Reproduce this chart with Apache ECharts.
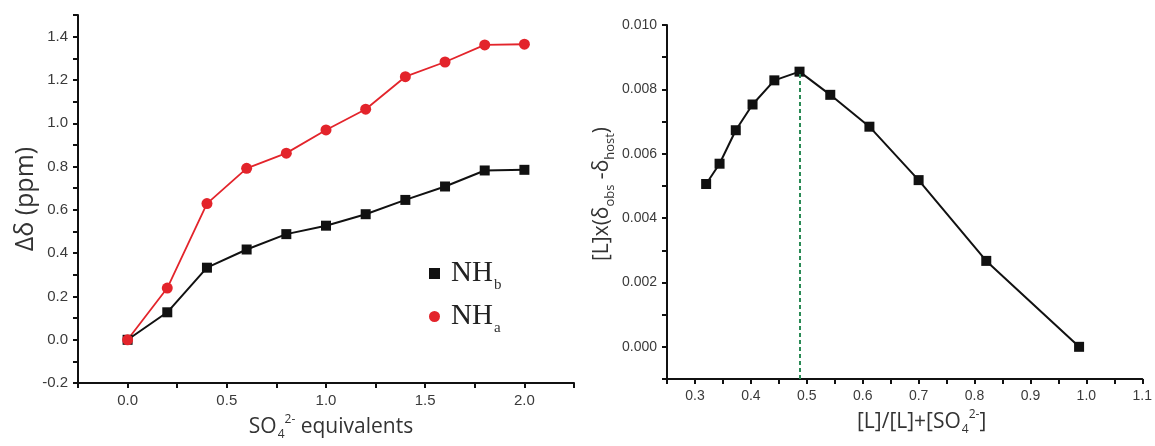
<!DOCTYPE html>
<html>
<head>
<meta charset="utf-8">
<script src="https://cdn.jsdelivr.net/npm/echarts@6/dist/echarts.min.js"></script>
<style>
html,body{margin:0;padding:0;background:#fff;}
#c{width:1155px;height:446px;}
</style>
</head>
<body>
<div id="c"></div>
<script>
// ---- Left panel data ----
const equivalents = [0.0, 0.2, 0.4, 0.6, 0.8, 1.0, 1.2, 1.4, 1.6, 1.8, 2.0];
const nhB = [0.0, 0.127, 0.333, 0.417, 0.488, 0.527, 0.58, 0.646, 0.708, 0.782, 0.785];
const nhA = [0.0, 0.239, 0.629, 0.792, 0.862, 0.969, 1.065, 1.215, 1.283, 1.362, 1.365];
const seriesNames = ['NHb', 'NHa'];

// ---- Right panel data (Job plot) ----
const moleFraction = [0.320, 0.344, 0.373, 0.403, 0.442, 0.487, 0.542, 0.612, 0.700, 0.821, 0.987];
const jobValues = [0.00506, 0.00569, 0.00673, 0.00753, 0.00828, 0.00855, 0.00783, 0.00684, 0.00518, 0.00267, 0.0];

// tick label sets
const leftXLabels = ['0.0', '0.5', '1.0', '1.5', '2.0'];
const leftYLabels = ['-0.2', '0.0', '0.2', '0.4', '0.6', '0.8', '1.0', '1.2', '1.4'];
const rightXLabels = ['0.3', '0.4', '0.5', '0.6', '0.7', '0.8', '0.9', '1.0', '1.1'];
const rightYLabels = ['0.000', '0.002', '0.004', '0.006', '0.008', '0.010'];

const chart = echarts.init(document.getElementById('c'), null, {renderer: 'canvas'});

function pickLabel(list, digits) {
  return function (v) {
    for (let i = 0; i < list.length; i++) {
      if (Math.abs(parseFloat(list[i]) - v) < 1e-7) return list[i];
    }
    return '';
  };
}

const axisCommon = {
  axisLine: {onZero: false, lineStyle: {color: '#111', width: 2}},
  axisTick: {inside: false, length: 5, lineStyle: {color: '#111', width: 2}},
  splitLine: {show: false}
};
const labelFont = 'Liberation Sans, Arial, sans-serif';
const titleFont = 'Open Sans, sans-serif';

const peakIdx = jobValues.indexOf(Math.max.apply(null, jobValues));

const option = {
  animation: false,
  backgroundColor: '#fff',
  grid: [
    {left: 78, top: 15, width: 496, height: 370},
    {left: 667, top: 25, width: 476, height: 354}
  ],
  legend: {
    left: 424, top: 249, orient: 'vertical', itemGap: 4,
    itemWidth: 11, itemHeight: 11,
    data: [
      {name: seriesNames[0], icon: 'rect'},
      {name: seriesNames[1], icon: 'circle'}
    ],
    formatter: function (name) { return '{m|NH}{s|' + name.slice(2) + '}'; },
    textStyle: {
      rich: {
        m: {fontFamily: 'Liberation Serif, serif', fontSize: 29, color: '#222', lineHeight: 30, padding: [0, 0, 0, 6]},
        s: {fontFamily: 'Liberation Serif, serif', fontSize: 15, color: '#333', lineHeight: 16, padding: [24, 0, 0, 1]}
      }
    }
  },
  xAxis: [
    Object.assign({}, axisCommon, {
      gridIndex: 0, type: 'value', min: -0.25, max: 2.25, interval: 0.25,
      axisLabel: {formatter: pickLabel(leftXLabels, 1), fontFamily: labelFont, fontSize: 15, color: '#3a3a3a', margin: 10},
      name: '{t|SO}{sub|4}{sup|2-}{t| equivalents}', nameLocation: 'middle', nameGap: 24,
      nameTextStyle: {
        padding: [0, 0, 0, 10],
        rich: {
          t: {fontFamily: titleFont, fontSize: 21, color: '#333', lineHeight: 26},
          sub: {fontFamily: titleFont, fontSize: 12, color: '#333', lineHeight: 14, padding: [16, 0, 0, 1]},
          sup: {fontFamily: titleFont, fontSize: 12, color: '#333', lineHeight: 14, padding: [0, 0, 14, 0]}
        }
      }
    }),
    Object.assign({}, axisCommon, {
      gridIndex: 1, type: 'value', min: 0.25, max: 1.1, interval: 0.05,
      axisLabel: {formatter: pickLabel(rightXLabels, 1), fontFamily: labelFont, fontSize: 14, color: '#3a3a3a', margin: 10},
      name: '{t|[L]/[L]+[SO}{sub|4}{sup|2-}{t|]}', nameLocation: 'middle', nameGap: 28,
      nameTextStyle: {
        padding: [0, 0, 0, 34],
        rich: {
          t: {fontFamily: titleFont, fontSize: 21, color: '#333', lineHeight: 26},
          sub: {fontFamily: titleFont, fontSize: 12, color: '#333', lineHeight: 14, padding: [16, 0, 0, 1]},
          sup: {fontFamily: titleFont, fontSize: 12, color: '#333', lineHeight: 14, padding: [0, 0, 14, 0]}
        }
      }
    })
  ],
  yAxis: [
    Object.assign({}, axisCommon, {
      gridIndex: 0, type: 'value', min: -0.2, max: 1.5, interval: 0.1,
      axisLabel: {formatter: pickLabel(leftYLabels, 1), fontFamily: labelFont, fontSize: 15, color: '#3a3a3a', margin: 10},
      name: 'Δδ (ppm)', nameLocation: 'middle', nameGap: 36,
      nameTextStyle: {fontFamily: titleFont, fontSize: 25, color: '#333'}
    }),
    Object.assign({}, axisCommon, {
      gridIndex: 1, type: 'value', min: -0.001, max: 0.010, interval: 0.001,
      axisLabel: {formatter: pickLabel(rightYLabels, 3), fontFamily: labelFont, fontSize: 14, color: '#3a3a3a', margin: 10},
      name: '{t|[L]x(δ}{sub|obs}{t| -δ}{sub|host}{t|)}', nameLocation: 'middle', nameGap: 52,
      nameTextStyle: {
        padding: [0, 0, 0, 16],
        rich: {
          t: {fontFamily: titleFont, fontSize: 21, color: '#333', lineHeight: 26},
          sub: {fontFamily: titleFont, fontSize: 13, color: '#333', lineHeight: 15, padding: [16, 0, 0, 0]}
        }
      }
    })
  ],
  series: [
    {
      name: seriesNames[0], type: 'line', xAxisIndex: 0, yAxisIndex: 0,
      data: equivalents.map((x, i) => [x, nhB[i]]),
      symbol: 'rect', symbolSize: 10,
      lineStyle: {color: '#111', width: 2},
      itemStyle: {color: '#111'}
    },
    {
      name: seriesNames[1], type: 'line', xAxisIndex: 0, yAxisIndex: 0,
      data: equivalents.map((x, i) => [x, nhA[i]]),
      symbol: 'circle', symbolSize: 11,
      lineStyle: {color: '#e3242b', width: 1.8},
      itemStyle: {color: '#e3242b'}
    },
    {
      name: 'job', type: 'line', xAxisIndex: 1, yAxisIndex: 1,
      data: moleFraction.map((x, i) => [x, jobValues[i]]),
      symbol: 'rect', symbolSize: 10,
      lineStyle: {color: '#111', width: 2},
      itemStyle: {color: '#111'},
      z: 3,
      markLine: {
        silent: true, symbol: 'none', label: {show: false},
        lineStyle: {color: '#2a8a55', type: [4, 3], width: 2},
        data: [[
          {coord: [moleFraction[peakIdx], -0.001]},
          {coord: [moleFraction[peakIdx], jobValues[peakIdx]]}
        ]]
      }
    }
  ]
};
chart.setOption(option);
</script>
</body>
</html>
